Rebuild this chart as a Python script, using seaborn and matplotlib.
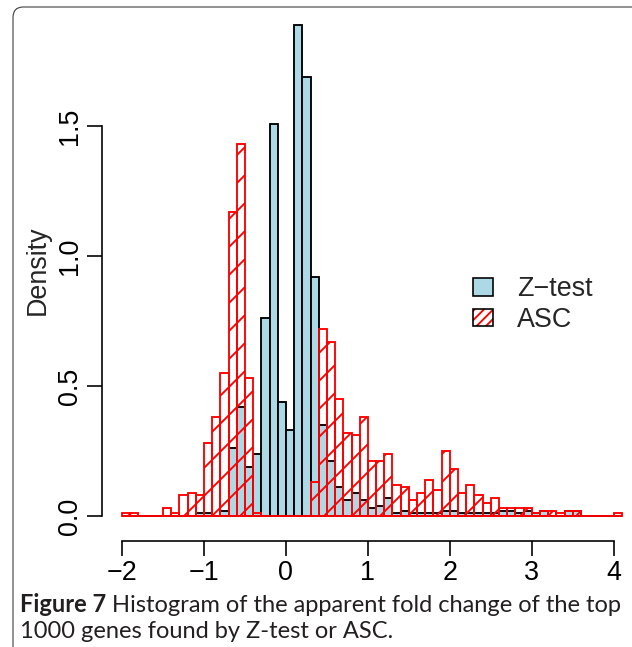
import numpy as np
import pandas as pd
import matplotlib
matplotlib.use("Agg")
import matplotlib.pyplot as plt
import seaborn as sns
from matplotlib.patches import Patch, FancyBboxPatch
from matplotlib.colors import to_rgba

# ---------------- data (densities per 0.1-wide bin, bins from -2.0 to 4.1) -------------
bin_start = -2.0
bin_width = 0.1
n_bins = 61

asc_density = [
    0.01, 0.01, 0.00, 0.00, 0.00, 0.03, 0.01, 0.08, 0.09, 0.08,   # -2.0 .. -1.1
    0.28, 0.38, 0.55, 1.17, 1.43, 0.53, 0.01, 0.00, 0.00, 0.00,   # -1.0 .. -0.1
    0.00, 0.00, 0.00, 0.13, 0.72, 0.67, 0.45, 0.32, 0.31, 0.38,   #  0.0 ..  0.9
    0.21, 0.21, 0.24, 0.12, 0.11, 0.06, 0.09, 0.14, 0.10, 0.25,   #  1.0 ..  1.9
    0.18, 0.09, 0.12, 0.08, 0.05, 0.07, 0.03, 0.03, 0.03, 0.03,   #  2.0 ..  2.9
    0.01, 0.02, 0.02, 0.01, 0.02, 0.02, 0.00, 0.00, 0.00, 0.00,   #  3.0 ..  3.9
    0.01,                                                         #  4.0
]
ztest_density = [
    0.00, 0.00, 0.00, 0.00, 0.00, 0.00, 0.00, 0.00, 0.00, 0.01,   # -2.0 .. -1.1
    0.01, 0.00, 0.02, 0.26, 0.42, 0.19, 0.24, 0.76, 1.51, 0.44,   # -1.0 .. -0.1
    0.33, 1.89, 1.69, 0.92, 0.35, 0.21, 0.11, 0.06, 0.09, 0.06,   #  0.0 ..  0.9
    0.03, 0.04, 0.07, 0.01, 0.02, 0.01, 0.01, 0.01, 0.01, 0.02,   #  1.0 ..  1.9
    0.02, 0.01, 0.01, 0.01, 0.01, 0.01, 0.02, 0.02, 0.01, 0.02,   #  2.0 ..  2.9
    0.01, 0.02, 0.00, 0.00, 0.02, 0.02, 0.00, 0.00, 0.00, 0.00,   #  3.0 ..  3.9
    0.00,                                                         #  4.0
]
series_labels = ["Z\u2212test", "ASC"]
x_ticks = [-2, -1, 0, 1, 2, 3, 4]
y_ticks = [0.0, 0.5, 1.0, 1.5]
y_label = "Density"
caption_bold = "Figure 7"
caption_line1 = " Histogram of the apparent fold change of the top"
caption_line2 = "1000 genes found by Z-test or ASC."

edges = [round(bin_start + bin_width * i, 2) for i in range(n_bins + 1)]
centers = [e + bin_width / 2 for e in edges[:-1]]
df = pd.DataFrame({"x": centers, "ztest": ztest_density, "asc": asc_density})

# ---------------- figure -------------
DPI = 168
W, H = 632, 647
sns.set_style("white")
plt.rcParams["font.family"] = ["Liberation Sans", "DejaVu Sans"]
plt.rcParams["hatch.linewidth"] = 0.8
plt.rcParams["axes.unicode_minus"] = True

fig = plt.figure(figsize=(W / DPI, H / DPI), dpi=DPI)
fig.patch.set_facecolor("white")

def px(v):
    return v * 72.0 / DPI

ax = fig.add_axes([102 / W, (H - 535.7) / H, 540 / W, 530.7 / H])
ax.set_facecolor("none")

sns.histplot(data=df, x="x", weights="ztest", bins=edges, stat="count",
             color="lightblue", edgecolor="black", linewidth=0.8, alpha=1,
             ax=ax)
sns.histplot(data=df, x="x", weights="asc", bins=edges, stat="count",
             fill=False, color="red", hatch="//", linewidth=0.8, alpha=1,
             ax=ax)

ax.set_xlim(-2.244, 4.344)
ax.set_ylim(-0.0756, 1.966)
ax.set_xticks(x_ticks)
ax.set_yticks(y_ticks)
ax.set_xticklabels([("\u2212%d" % -t) if t < 0 else "%d" % t for t in x_ticks])
ax.set_yticklabels(["%.1f" % t for t in y_ticks])
ax.set_xlabel("")
ax.set_ylabel(y_label, fontsize=11.5, labelpad=px(6))

for s in ["top", "right"]:
    ax.spines[s].set_visible(False)
ax.spines["left"].set_bounds(0, 1.5)
ax.spines["bottom"].set_bounds(-2, 4)
ax.spines["bottom"].set_position(("outward", px(5)))
for s in ["left", "bottom"]:
    ax.spines[s].set_linewidth(0.7)
    ax.spines[s].set_color("black")

ax.tick_params(axis="both", direction="out", length=px(15), width=0.7,
               labelsize=11.5, colors="black", bottom=True, left=True)
ax.tick_params(axis="x", pad=px(4))
ax.tick_params(axis="y", pad=px(4), labelrotation=90)
for lab in ax.get_yticklabels():
    lab.set_va("center")
ax.grid(False)

# legend
h_z = Patch(facecolor="lightblue", edgecolor="black", linewidth=0.7)
h_a = Patch(facecolor="none", edgecolor="black", hatch="//////", linewidth=0.7)
leg = fig.legend([h_z, h_a], series_labels,
                 loc="center left", bbox_to_anchor=(473 / W, (H - 304.5) / H),
                 frameon=False, fontsize=11.5, borderpad=0, borderaxespad=0,
                 handlelength=0.74, handleheight=0.63, handletextpad=0.9,
                 labelspacing=0.17)
# legend box border black, hatch lines red
asc_handle = leg.legend_handles[1]
asc_handle.set_edgecolor("black")
asc_handle._hatch_color = to_rgba("red")

# frame around figure panel
frame = FancyBboxPatch((13 / W, -0.05), 1.2, (H - 7) / H + 0.05,
                       boxstyle="round,pad=0,rounding_size=0.016",
                       transform=fig.transFigure, facecolor="none",
                       edgecolor="#333333", linewidth=0.45, zorder=0)
fig.patches.append(frame)

# caption
cap_font = ["Lato", "DejaVu Sans"]
cap_color = "#231f20"
x0 = 20 / W
target_w = 602.0
size = 8.0
fig.canvas.draw()
r = fig.canvas.get_renderer()
tb = fig.text(x0, (H - 612) / H, caption_bold, fontweight="bold",
              family=cap_font, fontsize=size, color=cap_color)
tr = fig.text(0, (H - 612) / H, caption_line1, family=cap_font,
              fontsize=size, color=cap_color)
wb = tb.get_window_extent(r).width
wr = tr.get_window_extent(r).width
size = size * target_w / (wb + wr)
tb.set_fontsize(size)
tr.set_fontsize(size)
wb = tb.get_window_extent(r).width
tr.set_x(x0 + wb / W)
fig.text(x0, (H - 638) / H, caption_line2, family=cap_font,
         fontsize=size, color=cap_color)

fig.savefig("out.png", dpi=DPI, facecolor="white")
